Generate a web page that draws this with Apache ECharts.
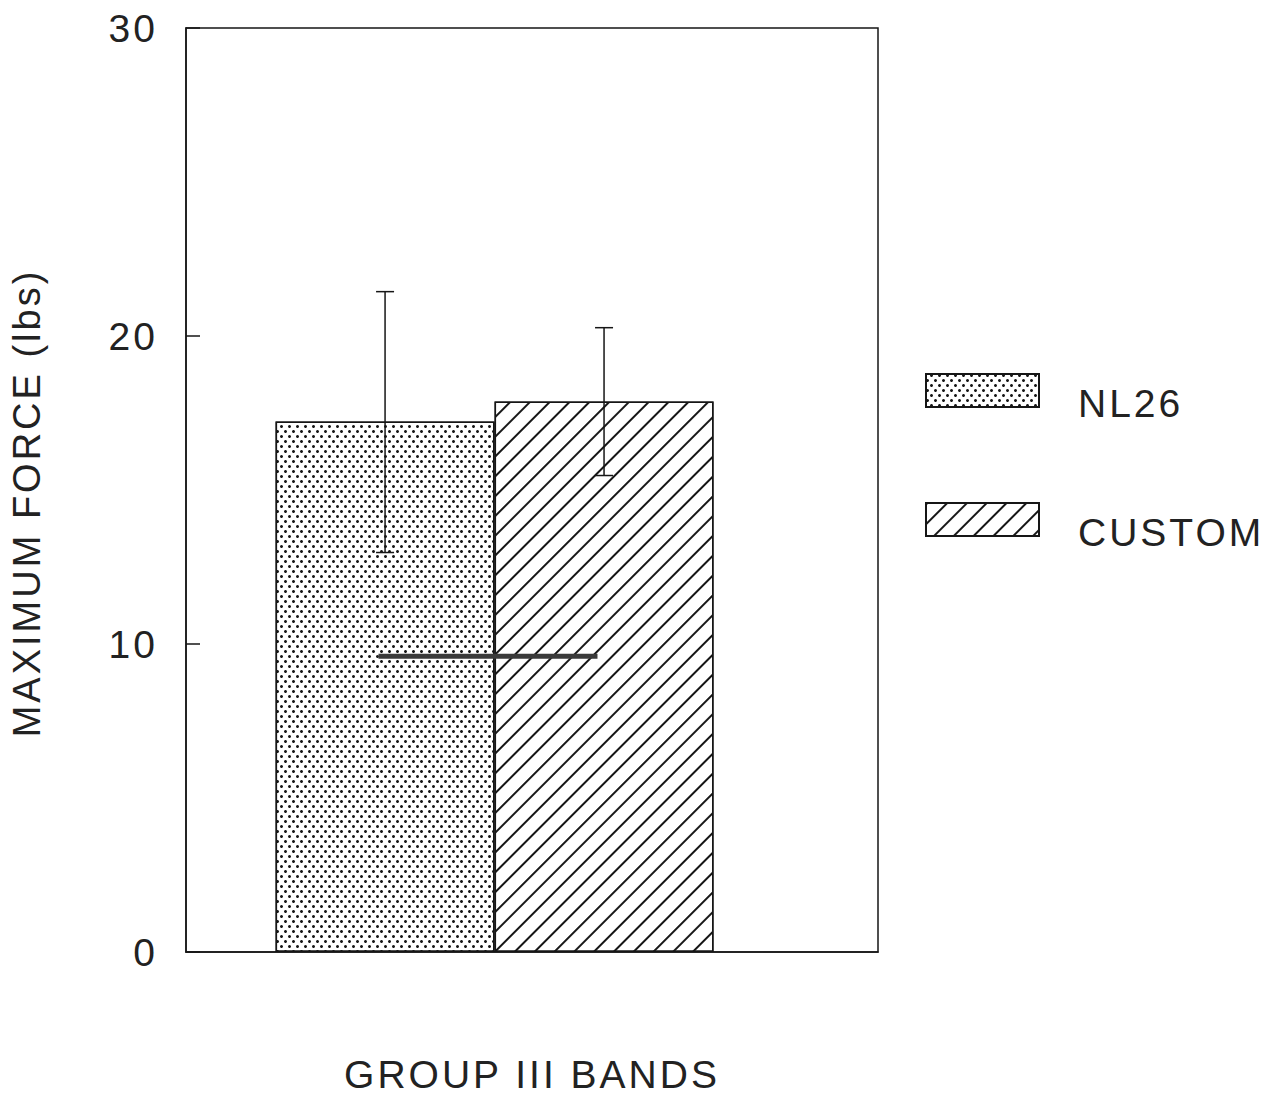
<!DOCTYPE html>
<html><head><meta charset="utf-8">
<script src="https://cdn.jsdelivr.net/npm/echarts@6/dist/echarts.min.js"></script>
<style>
html,body{margin:0;padding:0;background:#fff}
#c{width:1272px;height:1099px}
#c svg text{letter-spacing:3px}
</style>
</head><body><div id="c"></div>
<script>
// ---- data ----
const categories = ['NL26', 'CUSTOM'];
const meanForce = [17.22, 17.87];
const errLow = [12.97, 15.47];
const errHigh = [21.44, 20.27];
const refLineValue = 9.6;
const refLineSpan = [-0.03, 0.97];
const yTicks = [0, 10, 20, 30];
const yAxisName = 'MAXIMUM FORCE (lbs)';
const xAxisName = 'GROUP III BANDS';

const FONT = '"Liberation Sans", Arial, Helvetica, sans-serif';
const INK = '#161616';

const decals = [
  { symbol: 'circle', symbolSize: 1, color: INK,
    dashArrayX: [[3, 5], [0, 4, 3, 1]], dashArrayY: [3, 2], rotation: 0 },
  { symbol: 'rect', symbolSize: 1, color: INK,
    dashArrayX: [1, 0], dashArrayY: [2, 12], rotation: -Math.PI / 4 }
];

const barSeries = categories.map((name, i) => ({
  name: name,
  type: 'bar',
  barWidth: 219,
  barGap: '-100%',
  data: [[i, meanForce[i]]],
  itemStyle: { color: '#fff', borderColor: INK, borderWidth: 1.5, decal: decals[i] },
  emphasis: { disabled: true },
  z: 2
}));

const errData = categories.map((c, i) => [i, errLow[i], errHigh[i]]);

const chart = echarts.init(document.getElementById('c'), null, { renderer: 'svg' });
chart.setOption({
  animation: false,
  backgroundColor: '#fff',
  textStyle: { fontFamily: FONT },
  grid: { left: 186, top: 28, width: 692, height: 925, show: true, borderColor: INK, borderWidth: 1.5, backgroundColor: 'transparent' },
  legend: {
    data: categories,
    orient: 'vertical',
    left: 925, top: 358,
    padding: 0,
    itemWidth: 113, itemHeight: 33, itemGap: 64,
    icon: 'rect',
    selectedMode: false,
    formatter: function (name) { return '\n' + name; },
    textStyle: { fontSize: 39, color: '#222', fontFamily: FONT, lineHeight: 26, padding: [0, 0, 0, 34] }
  },
  xAxis: {
    type: 'value', min: -0.909, max: 2.251,
    name: xAxisName, nameLocation: 'middle', nameGap: 103,
    nameTextStyle: { fontSize: 39, color: '#222', fontFamily: FONT },
    axisLine: { show: true, onZero: false, lineStyle: { color: INK, width: 1.5 } },
    axisTick: { show: false }, axisLabel: { show: false }, splitLine: { show: false }
  },
  yAxis: {
    type: 'value', min: yTicks[0], max: yTicks[yTicks.length - 1], interval: 10,
    name: yAxisName, nameLocation: 'middle', nameGap: 140,
    nameTextStyle: { fontSize: 38, color: '#222', fontFamily: FONT, padding: [0, 26, 0, 0] },
    axisLine: { show: true, onZero: false, lineStyle: { color: INK, width: 1.5 } },
    axisTick: { show: true, inside: true, length: 14, lineStyle: { color: INK, width: 1.5 } },
    axisLabel: { fontSize: 39, color: '#222', margin: 28, fontFamily: FONT },
    splitLine: { show: false }
  },
  series: barSeries.concat([
    {
      name: 'err', type: 'custom', z: 5,
      data: errData,
      renderItem: function (params, api) {
        const x = api.value(0);
        const lo = api.coord([x, api.value(1)]);
        const hi = api.coord([x, api.value(2)]);
        const h = 9;
        const st = { stroke: INK, lineWidth: 1.5 };
        return { type: 'group', children: [
          { type: 'line', shape: { x1: hi[0], y1: hi[1], x2: lo[0], y2: lo[1] }, style: st },
          { type: 'line', shape: { x1: hi[0] - h, y1: hi[1], x2: hi[0] + h, y2: hi[1] }, style: st },
          { type: 'line', shape: { x1: lo[0] - h, y1: lo[1], x2: lo[0] + h, y2: lo[1] }, style: st }
        ]};
      }
    },
    {
      name: 'ref', type: 'line', z: 6, symbol: 'none',
      data: refLineSpan.map(x => [x, refLineValue]),
      lineStyle: { color: '#3a3a3a', width: 5 },
      emphasis: { disabled: true }
    }
  ])
});
</script>
</body></html>
